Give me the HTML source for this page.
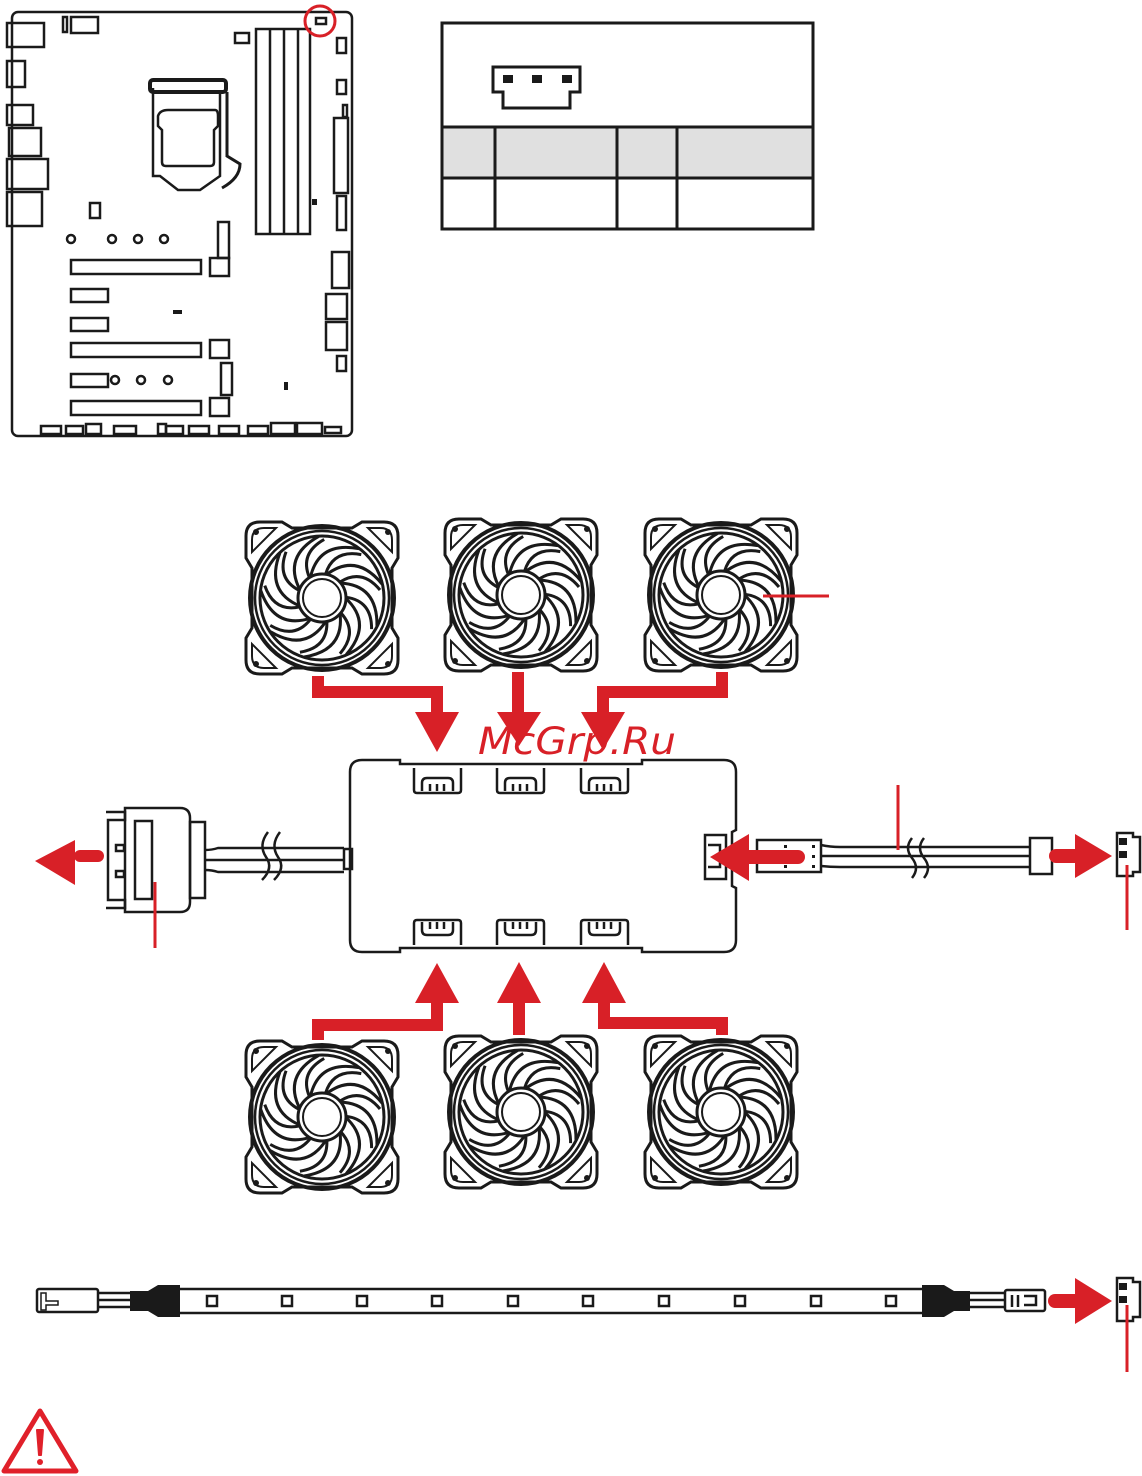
<!DOCTYPE html>
<html><head><meta charset="utf-8"><style>
html,body{margin:0;padding:0;background:#fff;}
svg{display:block;}
</style></head><body>
<svg width="1142" height="1476" viewBox="0 0 1142 1476" xmlns="http://www.w3.org/2000/svg">
<defs>
<g id="fan">
  <path d="M-62,-76 H-40 L-30,-70 H30 L40,-76 H62 Q76,-76 76,-62 V-40 L70,-30 V30 L76,40 V62 Q76,76 62,76 H40 L30,70 H-30 L-40,76 H-62 Q-76,76 -76,62 V40 L-70,30 V-30 L-76,-40 V-62 Q-76,-76 -62,-76 Z" fill="#fff" stroke="#1a1a1a" stroke-width="3"/>
  <path d="M-58,-70 H-46 L-70,-46 V-58 Q-70,-70 -58,-70Z M58,-70 H46 L70,-46 V-58 Q70,-70 58,-70Z M-58,70 H-46 L-70,46 V58 Q-70,70 -58,70Z M58,70 H46 L70,46 V58 Q70,70 58,70Z" fill="none" stroke="#1a1a1a" stroke-width="2"/>
  <circle cx="-66" cy="-66" r="3" fill="#1a1a1a"/><circle cx="66" cy="-66" r="3" fill="#1a1a1a"/>
  <circle cx="-66" cy="66" r="3" fill="#1a1a1a"/><circle cx="66" cy="66" r="3" fill="#1a1a1a"/>
  <circle r="72" fill="none" stroke="#1a1a1a" stroke-width="4"/>
  <circle r="67" fill="none" stroke="#1a1a1a" stroke-width="2.5"/>
  <circle r="62" fill="none" stroke="#1a1a1a" stroke-width="3"/>
  <g fill="none" stroke="#1a1a1a" stroke-width="3">
    <path id="bl" d="M4,-23 Q34,-46 60,-14 M18,-16 Q40,-30 58,-8"/>
    <use href="#bl" transform="rotate(40)"/><use href="#bl" transform="rotate(80)"/>
    <use href="#bl" transform="rotate(120)"/><use href="#bl" transform="rotate(160)"/>
    <use href="#bl" transform="rotate(200)"/><use href="#bl" transform="rotate(240)"/>
    <use href="#bl" transform="rotate(280)"/><use href="#bl" transform="rotate(320)"/>
  </g>
  <circle r="24" fill="#fff" stroke="#1a1a1a" stroke-width="3"/>
  <circle r="19" fill="none" stroke="#1a1a1a" stroke-width="2"/>
</g>
<g id="sockT" fill="none" stroke="#1a1a1a" stroke-width="2.5">
  <path d="M0,0 V22 Q0,25 3,25 H44 Q47,25 47,22 V0"/>
  <path d="M8,23 V15 Q8,10 13,10 H34 Q39,10 39,15 V23 M16,23 V16 M23,23 V16 M30,23 V16"/>
</g>
<g id="sockB" fill="none" stroke="#1a1a1a" stroke-width="2.5">
  <path d="M0,25 V3 Q0,0 3,0 H44 Q47,0 47,3 V25"/>
  <path d="M8,2 V10 Q8,15 13,15 H34 Q39,15 39,10 V2 M16,2 V9 M23,2 V9 M30,2 V9"/>
</g>
</defs>

<!-- Motherboard -->
<g fill="none" stroke="#1a1a1a" stroke-width="2.5">
  <rect x="12" y="12" width="340" height="424" rx="6"/>
  <rect x="7" y="23" width="37" height="24"/><rect x="7" y="61" width="18" height="26"/>
  <rect x="7" y="105" width="26" height="20"/><rect x="9" y="128" width="32" height="28"/>
  <rect x="7" y="159" width="41" height="30"/><rect x="7" y="192" width="35" height="34"/>
  <rect x="63" y="17" width="4" height="15"/><rect x="71" y="17" width="27" height="16"/>
  <rect x="235" y="33" width="14" height="10"/>
  <rect x="256" y="29" width="54" height="205"/>
  <line x1="270" y1="29" x2="270" y2="234"/><line x1="284" y1="29" x2="284" y2="234"/><line x1="298" y1="29" x2="298" y2="234"/>
  <rect x="337" y="38" width="9" height="15"/><rect x="337" y="80" width="9" height="14"/>
  <rect x="334" y="118" width="14" height="75"/><rect x="343" y="105" width="4" height="12"/>
  <rect x="337" y="196" width="9" height="34"/><rect x="332" y="252" width="17" height="36"/>
  <rect x="326" y="294" width="21" height="25"/><rect x="326" y="322" width="21" height="28"/>
  <rect x="337" y="356" width="9" height="15"/>
  <path d="M153,88 V176 H160 L178,190 H200 L220,176 V92"/>
  <rect x="150" y="80" width="76" height="12" rx="3" stroke-width="4"/>
  <path d="M168,110 H215 Q218,110 218,116 V126 L214,130 V162 Q214,166 210,166 H166 Q162,166 162,162 V130 L158,126 V116 Q160,110 168,110Z"/>
  <path d="M227,92 V156 L240,164 Q240,178 222,188" stroke-width="3"/>
  <rect x="90" y="203" width="10" height="15"/>
  <circle cx="71" cy="239" r="4"/><circle cx="112" cy="239" r="4"/><circle cx="138" cy="239" r="4"/><circle cx="164" cy="239" r="4"/>
  <rect x="71" y="260" width="130" height="14"/><rect x="218" y="222" width="11" height="36"/>
  <rect x="210" y="258" width="19" height="18"/>
  <rect x="71" y="289" width="37" height="13"/><rect x="71" y="318" width="37" height="13"/>
  <rect x="71" y="343" width="130" height="14"/><rect x="210" y="340" width="19" height="18"/>
  <rect x="71" y="374" width="37" height="13"/>
  <circle cx="115" cy="380" r="4"/><circle cx="141" cy="380" r="4"/><circle cx="168" cy="380" r="4"/>
  <rect x="221" y="363" width="11" height="32"/>
  <rect x="71" y="401" width="130" height="14"/><rect x="210" y="398" width="19" height="18"/>
  <rect x="41" y="426" width="20" height="8"/><rect x="66" y="426" width="17" height="8"/><rect x="86" y="424" width="15" height="10"/>
  <rect x="114" y="426" width="22" height="8"/><rect x="158" y="424" width="8" height="10"/><rect x="166" y="426" width="17" height="8"/>
  <rect x="189" y="426" width="20" height="8"/><rect x="219" y="426" width="20" height="8"/><rect x="248" y="426" width="20" height="8"/>
  <rect x="271" y="423" width="24" height="11"/><rect x="297" y="423" width="25" height="11"/><rect x="325" y="427" width="16" height="6"/>
  <rect x="316" y="18" width="10" height="6"/>
</g>
<rect x="173" y="310" width="9" height="4" fill="#1a1a1a"/>
<rect x="284" y="382" width="4" height="8" fill="#1a1a1a"/>
<rect x="312" y="199" width="5" height="6" fill="#1a1a1a"/>
<circle cx="320" cy="21" r="15" fill="none" stroke="#d82027" stroke-width="3"/>

<!-- Table -->
<rect x="443" y="127" width="369" height="51" fill="#e0e0e0"/>
<g fill="none" stroke="#1a1a1a" stroke-width="3">
  <rect x="442" y="23" width="371" height="206"/>
  <line x1="442" y1="127" x2="813" y2="127"/><line x1="442" y1="178" x2="813" y2="178"/>
  <line x1="495" y1="127" x2="495" y2="229"/><line x1="617" y1="127" x2="617" y2="229"/><line x1="677" y1="127" x2="677" y2="229"/>
  <path d="M493,67 H580 V92 H570 V108 H503 V92 H493 Z"/>
</g>
<rect x="503" y="75" width="10" height="8" fill="#1a1a1a"/><rect x="532" y="75" width="10" height="8" fill="#1a1a1a"/><rect x="562" y="75" width="10" height="8" fill="#1a1a1a"/>

<!-- Fans -->
<use href="#fan" transform="translate(322,598)"/>
<use href="#fan" transform="translate(521,595)"/>
<use href="#fan" transform="translate(721,595)"/>
<use href="#fan" transform="translate(322,1117)"/>
<use href="#fan" transform="translate(521,1112)"/>
<use href="#fan" transform="translate(721,1112)"/>
<line x1="763" y1="596" x2="829" y2="596" stroke="#d82027" stroke-width="3"/>

<!-- Red arrows to hub -->
<g fill="none" stroke="#d82027" stroke-width="12">
  <path d="M318,676 V692 H437 V715"/>
  <path d="M518,672 V715"/>
  <path d="M722,672 V692 H603 V715"/>
  <path d="M318,1040 V1025 H437 V1000"/>
  <path d="M519,1035 V1000"/>
  <path d="M722,1035 V1023 H604 V1000"/>
</g>
<g fill="#d82027">
  <path d="M415,712 H459 L437,752Z"/><path d="M497,712 H541 L519,746Z"/><path d="M581,712 H625 L603,750Z"/>
  <path d="M415,1003 H459 L437,963Z"/><path d="M497,1003 H541 L519,962Z"/><path d="M582,1003 H626 L604,962Z"/>
</g>
<text x="478" y="754" font-family="DejaVu Sans, sans-serif" font-style="italic" font-size="37" fill="#d82027" textLength="198" lengthAdjust="spacingAndGlyphs">McGrp.Ru</text>

<!-- Hub -->
<g fill="none" stroke="#1a1a1a" stroke-width="2.5">
  <path d="M362,760 H400 V764 H642 V760 H724 Q736,760 736,772 V830 L732,832 V886 L736,888 V940 Q736,952 724,952 H642 V948 H400 V952 H362 Q350,952 350,940 V772 Q350,760 362,760Z"/>
</g>
<use href="#sockT" transform="translate(414,768)"/><use href="#sockT" transform="translate(497,768)"/><use href="#sockT" transform="translate(581,768)"/>
<use href="#sockB" transform="translate(414,920)"/><use href="#sockB" transform="translate(497,920)"/><use href="#sockB" transform="translate(581,920)"/>
<g fill="none" stroke="#1a1a1a" stroke-width="2.5">
  <rect x="705" y="835" width="21" height="44"/><path d="M708,845 H720 V855 M708,867 H720 V857"/>
  <rect x="344" y="849" width="8" height="20"/>
</g>

<!-- SATA connector -->
<g fill="none" stroke="#1a1a1a" stroke-width="2.5">
  <path d="M125,808 H180 Q190,808 190,818 V902 Q190,912 180,912 H125 Z"/>
  <path d="M106,812 H125 V820 H108 V858 M108,826 V900 H125 V908 H106"/>
  <rect x="135" y="821" width="17" height="78"/>
  <rect x="190" y="822" width="15" height="76"/>
  <rect x="116" y="845" width="8" height="6"/><rect x="116" y="871" width="8" height="6"/>
  <path d="M205,850 Q212,850 218,848 H344 M205,860 H344 M205,870 Q212,870 218,872 H344"/>
</g>
<g fill="none" stroke="#1a1a1a" stroke-width="2.5">
  <path d="M268,832 Q258,845 266,857 Q274,868 262,880"/><path d="M280,832 Q270,845 278,857 Q286,868 274,880"/>
</g>
<path d="M98,856 H80" stroke="#d82027" stroke-width="12" stroke-linecap="round"/>
<path d="M35,861 L75,840 V885Z" fill="#d82027"/>
<line x1="155" y1="882" x2="155" y2="948" stroke="#d82027" stroke-width="3"/>

<!-- Right cable -->
<g fill="none" stroke="#1a1a1a" stroke-width="2.5">
  <rect x="757" y="840" width="64" height="32"/>
  <path d="M821,845 Q830,847 840,847 H1030 M821,856 H1030 M821,866 Q830,867 840,867 H1030"/>
  <rect x="1030" y="838" width="22" height="36"/>
  <path d="M912,838 Q904,848 912,858 Q920,868 912,878 M924,838 Q916,848 924,858 Q932,868 924,878"/>
  <path d="M1117,833 H1133 V837 H1140 V872 H1133 V876 H1117 Z"/>
</g>
<rect x="1119" y="838" width="8" height="7" fill="#1a1a1a"/><rect x="1119" y="851" width="8" height="7" fill="#1a1a1a"/>
<g fill="#1a1a1a"><rect x="784" y="845" width="3" height="3"/><rect x="784" y="855" width="3" height="3"/><rect x="784" y="865" width="3" height="3"/><rect x="812" y="845" width="3" height="3"/><rect x="812" y="855" width="3" height="3"/><rect x="812" y="865" width="3" height="3"/></g>
<path d="M798,857 H745" stroke="#d82027" stroke-width="14" stroke-linecap="round"/>
<path d="M710,857 L749,834 V881Z" fill="#d82027"/>
<path d="M1056,856 H1080" stroke="#d82027" stroke-width="14" stroke-linecap="round"/>
<path d="M1075,834 L1112,856 L1075,878Z" fill="#d82027"/>
<line x1="898" y1="785" x2="898" y2="850" stroke="#d82027" stroke-width="3"/>
<line x1="1127" y1="865" x2="1127" y2="930" stroke="#d82027" stroke-width="3"/>

<!-- LED strip -->
<g fill="none" stroke="#1a1a1a" stroke-width="2.5">
  <rect x="37" y="1289" width="61" height="23" rx="2"/>
  <path d="M41,1293 H46 V1301 H58 V1305 H46 V1310 H41 Z" stroke-width="1.5"/>
  <path d="M98,1293 H132 M98,1300 H132 M98,1307 H132"/>
  <path d="M180,1289 H922 M180,1313 H922"/>
  <path d="M970,1293 H1005 M970,1300 H1005 M970,1307 H1005"/>
  <rect x="1005" y="1290" width="40" height="21" rx="2"/>
  <path d="M1012,1295 V1307 M1018,1295 V1307 M1024,1296 H1036 V1305 H1024"/>
  <path d="M1117,1278 H1133 V1282 H1140 V1317 H1133 V1321 H1117 Z"/>
</g>
<path d="M130,1291 H148 L158,1285 H180 V1317 H158 L148,1311 H130 Z" fill="#1a1a1a"/>
<path d="M922,1285 H944 L954,1291 H970 V1311 H954 L944,1317 H922 Z" fill="#1a1a1a"/>
<g fill="none" stroke="#1a1a1a" stroke-width="2.5">
  <rect x="207" y="1296" width="10" height="10"/><rect x="282" y="1296" width="10" height="10"/><rect x="357" y="1296" width="10" height="10"/>
  <rect x="432" y="1296" width="10" height="10"/><rect x="508" y="1296" width="10" height="10"/><rect x="583" y="1296" width="10" height="10"/>
  <rect x="659" y="1296" width="10" height="10"/><rect x="735" y="1296" width="10" height="10"/><rect x="811" y="1296" width="10" height="10"/>
  <rect x="886" y="1296" width="10" height="10"/>
</g>
<rect x="1119" y="1283" width="8" height="7" fill="#1a1a1a"/><rect x="1119" y="1296" width="8" height="7" fill="#1a1a1a"/>
<path d="M1055,1301 H1080" stroke="#d82027" stroke-width="14" stroke-linecap="round"/>
<path d="M1075,1278 L1112,1301 L1075,1324Z" fill="#d82027"/>
<line x1="1127" y1="1305" x2="1127" y2="1372" stroke="#d82027" stroke-width="3"/>

<!-- Warning -->
<path d="M40,1411 L76,1471 H4 Z" fill="none" stroke="#e0202a" stroke-width="5" stroke-linejoin="round"/>
<path d="M37,1430 H43 L41,1455 H39 Z" fill="#e0202a" stroke="#e0202a" stroke-width="2" stroke-linejoin="round"/>
<circle cx="40" cy="1462" r="3" fill="#e0202a"/>
</svg>
</body></html>
